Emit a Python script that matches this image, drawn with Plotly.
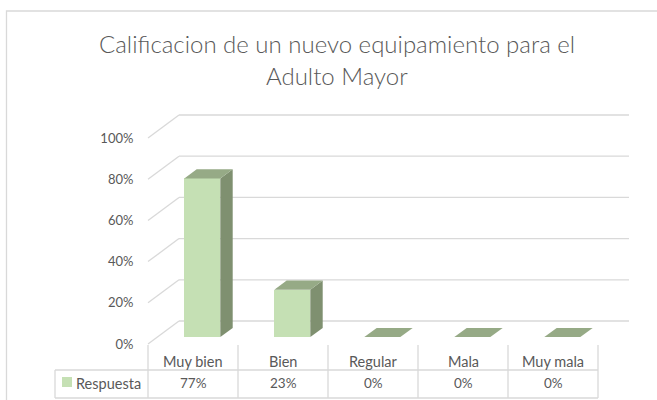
import plotly.graph_objects as go

# ---- data ----
categories = ["Muy bien", "Bien", "Regular", "Mala", "Muy mala"]
values = [77, 23, 0, 0, 0]
series_name = "Respuesta"
y_ticks = [0, 20, 40, 60, 80, 100]
title_lines = ["Calificacion de un nuevo equipamiento para el", "Adulto Mayor"]

# ---- styling / geometry (pixels -> axis units) ----
W, H = 657, 400
X0_PX, PX_PER_U = 148, 90.0      # front-left floor corner, px per category
Y0_PX, PX_PER_V = 344, 2.06      # front floor level, px per percent
DU = 31 / PX_PER_U               # full depth offset (x units)
DV = 23 / PX_PER_V               # full depth offset (y units)
BAR_W = 0.4
BAR_FRONT, BAR_BACK = 0.3, 0.7   # depth fractions of bar faces

FRONT = "#C5E0B4"
SIDE = "#7F9070"
TOP = "#96AA86"
GRID = "#D9D9D9"
TXT = "#595959"
FONT = "Lato"


def u(px):
    return (px - X0_PX) / PX_PER_U


def v(py):
    return (Y0_PX - py) / PX_PER_V


fig = go.Figure()
shapes = []

# back wall gridlines + left wall diagonals
for t in y_ticks:
    shapes.append(dict(type="line", xref="x", yref="y", x0=DU, y0=t + DV,
                       x1=len(categories) + DU, y1=t + DV,
                       line=dict(color=GRID, width=1.3), layer="below"))
    shapes.append(dict(type="line", xref="x", yref="y", x0=0, y0=t,
                       x1=DU, y1=t + DV,
                       line=dict(color=GRID, width=1.3), layer="below"))

base = BAR_FRONT * DV
ddx = (BAR_BACK - BAR_FRONT) * DU
ddv = (BAR_BACK - BAR_FRONT) * DV
xs = [i + 0.5 + BAR_FRONT * DU for i in range(len(categories))]

# side and top faces
for xc, val in zip(xs, values):
    x0, x1 = xc - BAR_W / 2, xc + BAR_W / 2
    top = base + val
    if val > 0:
        fig.add_trace(go.Scatter(
            x=[x1, x1 + ddx, x1 + ddx, x1, x1],
            y=[base, base + ddv, top + ddv, top, base],
            fill="toself", fillcolor=SIDE, mode="lines",
            line=dict(width=0, color=SIDE), hoverinfo="skip", showlegend=False))
    fig.add_trace(go.Scatter(
        x=[x0, x1, x1 + ddx, x0 + ddx, x0],
        y=[top, top, top + ddv, top + ddv, top],
        fill="toself", fillcolor=TOP, mode="lines",
        line=dict(width=0, color=TOP), hoverinfo="skip", showlegend=False))

# front faces
fig.add_trace(go.Bar(x=xs, y=values, base=base, width=BAR_W,
                     marker=dict(color=FRONT, line=dict(width=0)),
                     name=series_name, showlegend=False, hoverinfo="skip"))

# ---- data table ----
n = len(categories)
vt, vm, vb = v(345), v(370), v(398)
xl = u(55)
for i in range(n + 1):
    shapes.append(dict(type="line", xref="x", yref="y", x0=i, x1=i, y0=vt, y1=vb,
                       line=dict(color=GRID, width=1.3)))
for yy in (vm, vb):
    shapes.append(dict(type="line", xref="x", yref="y", x0=xl, x1=n, y0=yy, y1=yy,
                       line=dict(color=GRID, width=1.3)))
shapes.append(dict(type="line", xref="x", yref="y", x0=xl, x1=xl, y0=vm, y1=vb,
                   line=dict(color=GRID, width=1.3)))
# legend key
shapes.append(dict(type="rect", xref="x", yref="y", x0=u(62), x1=u(72),
                   y0=v(387), y1=v(377), fillcolor=FRONT, line=dict(width=0)))
# chart border
shapes.append(dict(type="rect", xref="paper", yref="paper", x0=6.5 / W, x1=1.02,
                   y0=-0.02, y1=1 - 11 / H, line=dict(color=GRID, width=1.3)))

TABLE_FONT = dict(family=FONT, size=14.5, color=TXT)
annotations = []
for i, (c, val) in enumerate(zip(categories, values)):
    annotations.append(dict(x=i + 0.5, y=v(361), xref="x", yref="y", text=c,
                            showarrow=False, font=TABLE_FONT))
    annotations.append(dict(x=i + 0.5, y=v(383), xref="x", yref="y", text=f"{val}%",
                            showarrow=False, font=dict(family=FONT, size=13.5, color=TXT)))
annotations.append(dict(x=u(74), y=v(383), xref="x", yref="y", text=series_name,
                        xanchor="left", showarrow=False, font=TABLE_FONT))

# title, two lines
TITLE_FONT = dict(family=FONT, size=24, color=TXT, weight=300)
for line_text, cy in zip(title_lines, (44, 75)):
    annotations.append(dict(x=337 / W, y=1 - cy / H, xref="paper", yref="paper",
                            text=line_text, showarrow=False, xanchor="center",
                            yanchor="middle", font=TITLE_FONT))

fig.update_layout(
    width=W, height=H,
    margin=dict(l=0, r=0, t=0, b=0),
    paper_bgcolor="white", plot_bgcolor="white",
    xaxis=dict(range=[u(0), u(W)], visible=False, fixedrange=True),
    yaxis=dict(range=[v(H), v(0)], anchor="free", position=X0_PX / W,
               tickvals=y_ticks, ticktext=[f"{t}%" for t in y_ticks],
               ticks="outside", ticklen=12, tickcolor="rgba(0,0,0,0)",
               showgrid=False, zeroline=False, showline=False,
               tickfont=dict(family=FONT, size=13, color=TXT), fixedrange=True),
    shapes=shapes, annotations=annotations, bargap=0,
)

fig.write_html("out.html", config={"displayModeBar": False},
               post_script="document.body.style.margin='0';")
